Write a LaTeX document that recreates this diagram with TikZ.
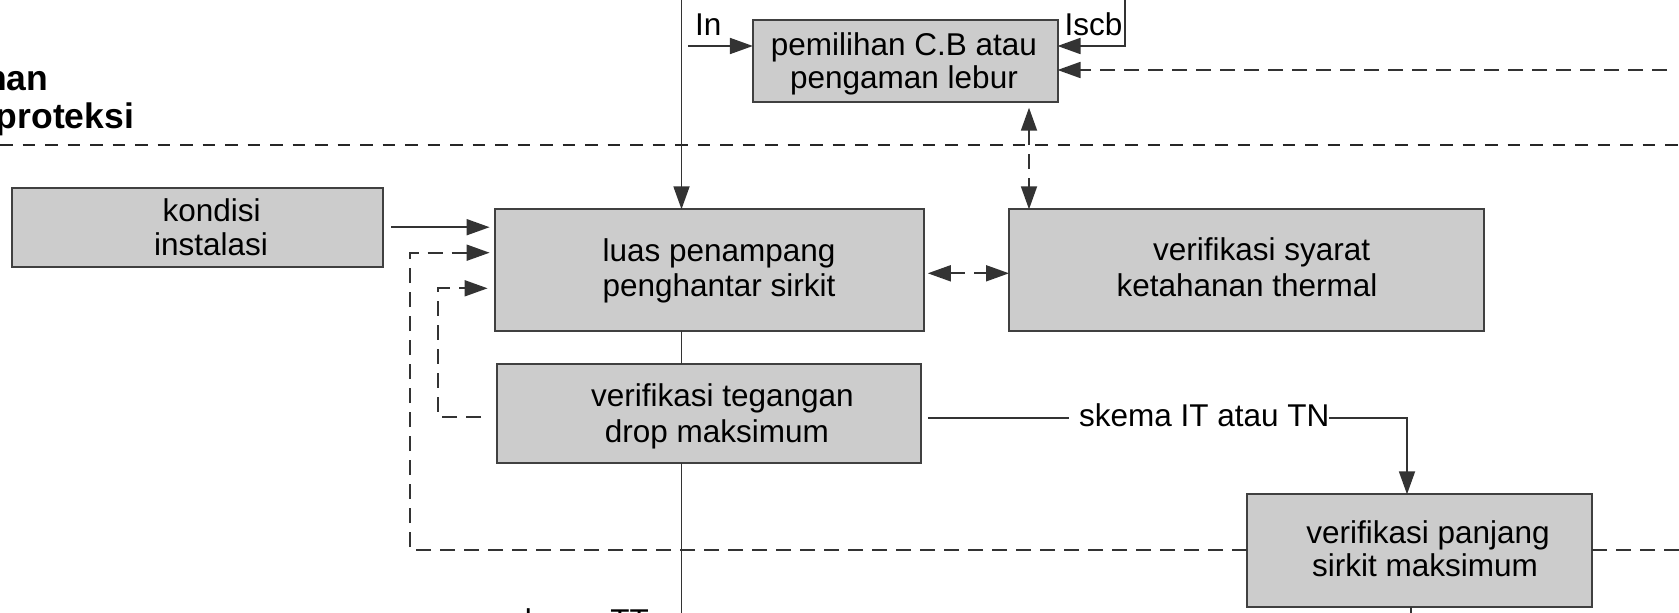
\documentclass[tikz,border=0pt]{standalone}
\usepackage{fontspec}
\setmainfont{Liberation Sans}
\usetikzlibrary{arrows.meta}
\definecolor{boxfill}{HTML}{CCCCCC}
\definecolor{boxline}{HTML}{404040}
\definecolor{lc}{HTML}{333333}
\begin{document}
\begin{tikzpicture}[x=1pt,y=-1pt,
  box/.style={draw=boxline,fill=boxfill,line width=2pt,inner sep=0pt,outer sep=0pt},
  txt/.style={inner sep=0pt,outer sep=0pt,font=\fontsize{31.5}{34.5}\selectfont,anchor=base},
  lbl/.style={inner sep=0pt,outer sep=0pt,font=\fontsize{31.5}{34.5}\selectfont,anchor=base west},
  boldlbl/.style={inner sep=0pt,outer sep=0pt,font=\fontsize{35.5}{38}\selectfont\bfseries,anchor=base east},
  ln/.style={draw=lc,line width=1.8pt},
  arr/.style={ln,-{Triangle[length=23pt,width=16pt]}},
  dsh/.style={ln,dash pattern=on 15pt off 9pt},
  darr/.style={dsh,-{Triangle[length=23pt,width=16pt]}},
  dbiarr/.style={dsh,{Triangle[length=23pt,width=16pt]}-{Triangle[length=23pt,width=16pt]}},
  sepline/.style={draw=black!85,line width=1.8pt,dash pattern=on 12.5pt off 10pt},
]
\useasboundingbox (0,0) rectangle (1679,613);

% boxes
\node[box,minimum width=304.6pt,minimum height=81.7pt] (cb) at (905.2,60.85) {};
\node[box,minimum width=371.4pt,minimum height=79pt] (kond) at (197.5,227.2) {};
\node[box,minimum width=429.7pt,minimum height=121.4pt] (luas) at (709.45,270) {};
\node[box,minimum width=475pt,minimum height=121.4pt] (therm) at (1246.5,270) {};
\node[box,minimum width=424.4pt,minimum height=99.3pt] (teg) at (709.2,413.65) {};
\node[box,minimum width=344.5pt,minimum height=112.4pt] (panj) at (1419.25,550.5) {};

% box texts
\node[txt] (cb1) at (904,55) {pemilihan C.B atau};
\node[txt] (cb2) at (904,88.3) {pengaman lebur};
\node[txt] (kond1) at (211.6,221.7) {kondisi};
\node[txt] (kond2) at (211,255.7) {instalasi};
\node[txt] (luas1) at (719,261) {luas penampang};
\node[txt] (luas2) at (719,296.7) {penghantar sirkit};
\node[txt] (therm1) at (1261.6,260.5) {verifikasi syarat};
\node[txt] (therm2) at (1247,296.7) {ketahanan thermal};
\node[txt] (teg1) at (722.5,406.7) {verifikasi tegangan};
\node[txt] (teg2) at (717,442.7) {drop maksimum};
\node[txt] (panj1) at (1428,543.3) {verifikasi panjang};
\node[txt] (panj2) at (1425,576.7) {sirkit maksimum};

% labels
\node[lbl] (lIn) at (695,35) {In};
\node[lbl] (lIscb) at (1064.5,35) {Iscb};
\node[lbl] (skema) at (1079,426.7) {skema IT atau TN};
\node[lbl] (skTT) at (509,631) {skema TT};
\node[boldlbl] (han) at (48.2,90.7) {han};
\node[boldlbl] (prot) at (134,128.3) {proteksi};

% coordinates
\coordinate (vx) at (681.5,0);
\coordinate (inS) at (688,46);
\coordinate (iscbT) at (1125,0);
\coordinate (rtop) at (1667,70);
\coordinate (sepL) at (0,145);
\coordinate (sepR) at (1679,145);
\coordinate (ct) at (1029,0);
\coordinate (lt) at (0,273.3);
\coordinate (sy) at (0,418);
\coordinate (sk) at (1407,418);
\coordinate (fb1) at (410,550);
\coordinate (fb1t) at (410,252.7);
\coordinate (fbR) at (1679,550);
\coordinate (fb2) at (438.2,416.7);
\coordinate (fb2t) at (438.2,288.3);
\coordinate (bot) at (0,613);
\coordinate (px) at (1411,0);

% separator
\draw[sepline] (sepL) -- (sepR);

% top connectors
\draw[arr] (vx) -- (vx |- luas.north);
\draw[arr] (inS) -- (inS -| cb.west);
\draw[arr] (iscbT) -- (iscbT |- inS) -- (inS -| cb.east);
\draw[darr] (rtop) -- (rtop -| cb.east);
\draw[dbiarr,shorten <=6pt] (ct |- cb.south) -- (ct |- therm.north);

% middle
\draw[arr,shorten <=8pt,shorten >=5pt] (kond.east) -- (kond.east -| luas.west);
\draw[dbiarr,shorten <=3.5pt] (lt -| luas.east) -- (lt -| therm.west);
\draw[ln] (vx |- luas.south) -- (vx |- teg.north);
\draw[ln] (vx |- teg.south) -- (vx |- bot);
\draw[ln,shorten <=6.5pt,shorten >=10pt] (sy -| teg.east) -- (sy -| skema.west);
\draw[arr] (sy -| skema.east) -- (sk) -- (sk |- panj.north);
\draw[ln] (px |- panj.south) -- (px |- bot);

% feedback dashed
\draw[darr,shorten >=5pt] (fb1 -| panj.west) -- (fb1) -- (fb1t) -- (fb1t -| luas.west);
\draw[dsh] (fbR) -- (fbR -| panj.east);
\draw[darr,shorten <=16pt,shorten >=7pt] (fb2 -| teg.west) -- (fb2) -- (fb2t) -- (fb2t -| luas.west);
\end{tikzpicture}
\end{document}
